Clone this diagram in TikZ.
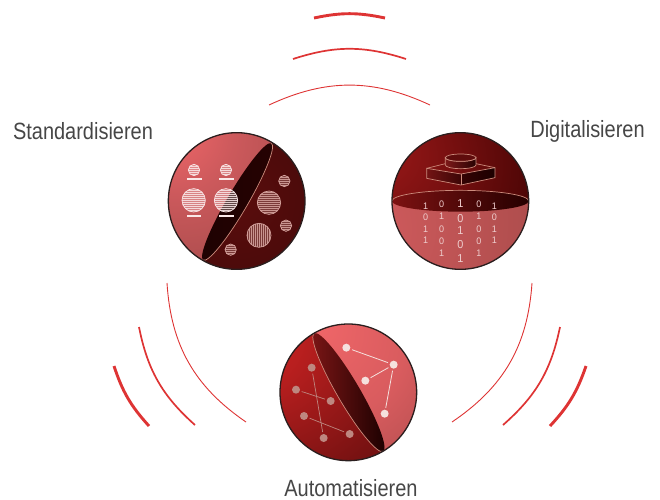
\documentclass[tikz,border=0pt]{standalone}
\usepackage{fontspec}
\setmainfont{Liberation Sans}[FakeStretch=0.85]
\newfontfamily\digitfont{Liberation Sans}[FakeStretch=0.95]
\definecolor{arcred}{RGB}{222,52,52}
\definecolor{rim}{RGB}{42,30,30}
\definecolor{seam}{RGB}{205,140,125}
\definecolor{labelgrey}{RGB}{70,70,70}
\definecolor{paleline}{RGB}{245,225,222}
\definecolor{darkline}{RGB}{190,135,128}
\definecolor{hatchlight}{RGB}{250,232,232}
\definecolor{hatchdark}{RGB}{215,165,160}
\definecolor{digitpale}{RGB}{238,205,205}
\pgfdeclareradialshading{sonepink}{\pgfpoint{-28bp}{30bp}}{rgb(0bp)=(0.97,0.41,0.42); rgb(22bp)=(0.80,0.35,0.36); rgb(55bp)=(0.62,0.28,0.28); rgb(120bp)=(0.56,0.25,0.25)}
\pgfdeclareradialshading{sonedark}{\pgfpoint{0bp}{0bp}}{rgb(0bp)=(0.35,0.05,0.05); rgb(30bp)=(0.29,0.04,0.04); rgb(60bp)=(0.20,0.02,0.02); rgb(120bp)=(0.18,0.02,0.02)}
\pgfdeclareradialshading{stwodark}{\pgfpoint{-33bp}{19bp}}{rgb(0bp)=(0.62,0.10,0.10); rgb(25bp)=(0.46,0.06,0.06); rgb(55bp)=(0.25,0.01,0.01); rgb(85bp)=(0.12,0.0,0.0); rgb(130bp)=(0.10,0.0,0.0)}
\pgfdeclareradialshading{stwopink}{\pgfpoint{-48bp}{-12bp}}{rgb(0bp)=(0.85,0.37,0.38); rgb(50bp)=(0.70,0.31,0.31); rgb(90bp)=(0.59,0.27,0.27); rgb(140bp)=(0.58,0.26,0.26)}
\pgfdeclareradialshading{sthreedark}{\pgfpoint{-42bp}{25bp}}{rgb(0bp)=(0.84,0.15,0.15); rgb(20bp)=(0.72,0.12,0.12); rgb(50bp)=(0.47,0.07,0.07); rgb(85bp)=(0.26,0.03,0.03); rgb(110bp)=(0.16,0.01,0.01); rgb(140bp)=(0.15,0.01,0.01)}
\pgfdeclareradialshading{sthreepink}{\pgfpoint{-12bp}{25bp}}{rgb(0bp)=(0.94,0.40,0.41); rgb(30bp)=(0.85,0.36,0.37); rgb(65bp)=(0.63,0.28,0.28); rgb(130bp)=(0.60,0.27,0.27)}
\tikzset{
  arcthin/.style={draw=arcred,line width=0.9pt},
  arcmid/.style={draw=arcred,line width=1.7pt},
  arcthick/.style={draw=arcred,line width=2.9pt},
  rimline/.style={draw=rim,line width=1.3pt},
  seamline/.style={draw=seam,line width=0.7pt},
  caption/.style={text=labelgrey,font=\fontsize{23.5}{26}\selectfont,inner sep=0pt},
  digit/.style={text=digitpale,font=\digitfont\fontsize{9.5}{10}\selectfont,inner sep=0pt},
  bigdigit/.style={text=digitpale,font=\digitfont\fontsize{11.5}{12}\selectfont,inner sep=0pt},
  netdark/.style={circle,fill=darkline,draw=none,minimum size=8pt,inner sep=0pt,outer sep=2pt},
  netpale/.style={circle,fill=paleline,draw=none,minimum size=8pt,inner sep=0pt,outer sep=2pt},
  zoomed/.style={x=0.33333pt,y=-0.33333pt},
}
\newcommand{\hatchh}[4]{%
  \begin{scope}
    \clip (#1,#2) circle (#3);
    \fill[#4,opacity=0.30] (#1,#2) circle (#3);
    \foreach \k in {-36,-30,...,36}
      \draw[#4,line width=0.5pt,opacity=0.85] ({#1-#3},{#2+\k}) -- ({#1+#3},{#2+\k});
  \end{scope}
  \draw[#4,line width=0.7pt] (#1,#2) circle (#3);}
\newcommand{\hatchv}[4]{%
  \begin{scope}
    \clip (#1,#2) circle (#3);
    \fill[#4,opacity=0.30] (#1,#2) circle (#3);
    \foreach \k in {-36,-30,...,36}
      \draw[#4,line width=0.5pt,opacity=0.85] ({#1+\k},{#2-#3}) -- ({#1+\k},{#2+#3});
  \end{scope}
  \draw[#4,line width=0.7pt] (#1,#2) circle (#3);}
\begin{document}
\begin{tikzpicture}[x=1pt,y=-1pt]
\useasboundingbox (0,0) rectangle (660,499);
% ---------- arcs
\coordinate (ta1) at (269,105); \coordinate (tb1) at (430,105);
\coordinate (ta2) at (293,59);  \coordinate (tb2) at (406,59);
\coordinate (ta3) at (314,18);  \coordinate (tb3) at (385,18);
\coordinate (la1) at (167,283); \coordinate (lb1) at (246,422);
\coordinate (la2) at (139,327); \coordinate (lb2) at (195,425);
\coordinate (la3) at (114,366); \coordinate (lb3) at (149,426);
\coordinate (ra1) at (532,283); \coordinate (rb1) at (452,422);
\coordinate (ra2) at (560,327); \coordinate (rb2) at (503,425);
\coordinate (ra3) at (586,366); \coordinate (rb3) at (550,426);
\draw[arcthin]  (ta1) to[bend left=25] (tb1);
\draw[arcmid]   (ta2) to[bend left=18] (tb2);
\draw[arcthick] (ta3) to[bend left=12] (tb3);
\draw[arcthin]  (la1) to[bend right=26] (lb1);
\draw[arcmid]   (la2) to[bend right=18.5] (lb2);
\draw[arcthick] (la3) to[bend right=12] (lb3);
\draw[arcthin]  (ra1) to[bend left=26] (rb1);
\draw[arcmid]   (ra2) to[bend left=18.5] (rb2);
\draw[arcthick] (ra3) to[bend left=12] (rb3);
% ---------- captions
\node[caption] (capS) at (83,131) {Standardisieren};
\node[caption] (capD) at (587.5,131) {Digitalisieren};
\node[caption] (capA) at (351,488) {Automatisieren};
% ---------- sphere 1
\begin{scope}[shift={(160,125)},zoomed]
  \begin{scope}
    \clip (230,228) circle (205);
    \shade[shading=sonedark] (230,228) circle (205);
    \begin{scope}
      \clip (335,55) -- (130,405) -- (-20,480) -- (-20,-20) -- (335,-20) -- cycle;
      \shade[shading=sonepink] (230,228) circle (205);
    \end{scope}
    \begin{scope}[shift={(232,230)},rotate=59.7]
      \shade[left color={rgb,255:red,30;green,2;blue,2},middle color={rgb,255:red,82;green,10;blue,10},right color={rgb,255:red,38;green,2;blue,2}] (0,0) ellipse (203 and 31);
      \draw[seamline] (203,0) arc (0:180:203 and 31);
    \end{scope}
  \end{scope}
  \hatchh{102}{135}{17}{hatchlight}
  \hatchh{198}{135}{17}{hatchlight}
  \hatchh{101}{226}{35}{hatchlight}
  \hatchh{198}{226}{35}{hatchlight}
  \fill[hatchlight] (81,160) rectangle (125,166);
  \fill[hatchlight] (177,160) rectangle (221,166);
  \fill[hatchlight] (80,269) rectangle (124,275);
  \fill[hatchlight] (177,269) rectangle (221,275);
  \hatchh{373}{168}{17}{hatchdark}
  \hatchh{327}{233}{35}{hatchdark}
  \hatchh{378}{302}{17}{hatchdark}
  \hatchv{297}{331}{36}{hatchdark}
  \hatchh{212}{374}{17}{hatchdark}
  \draw[rimline] (230,228) circle (205);
\end{scope}
% ---------- sphere 2
\begin{scope}[shift={(385,125)},zoomed]
  \begin{scope}
    \clip (226,228) circle (205);
    \shade[shading=stwodark] (226,228) circle (205);
    \begin{scope}
      \clip (-10,228) rectangle (460,460);
      \shade[shading=stwopink] (226,228) circle (205);
    \end{scope}
    \shade[left color={rgb,255:red,125;green,18;blue,18},middle color={rgb,255:red,28;green,0;blue,0},right color={rgb,255:red,38;green,0;blue,0}] (226,228) ellipse (205 and 32);
    \draw[seamline] (21,228) arc (180:360:205 and 32);
  \end{scope}
  % stepped block
  \shade[left color={rgb,255:red,115;green,20;blue,20},right color={rgb,255:red,60;green,6;blue,6}] (125,130) -- (228,147) -- (228,180) -- (125,160) -- cycle;
  \shade[left color={rgb,255:red,52;green,3;blue,3},right color={rgb,255:red,28;green,0;blue,0}] (228,147) -- (330,128) -- (330,158) -- (228,180) -- cycle;
  \draw[seamline] (125,130) -- (228,147) -- (330,128) -- (330,158) -- (228,180) -- (125,160) -- cycle;
  \draw[seamline] (228,147) -- (228,180);
  \draw[seamline] (125,130) -- (181,116);
  \draw[seamline] (273,116) -- (330,128);
  \shade[left color={rgb,255:red,125;green,25;blue,25},right color={rgb,255:red,40;green,2;blue,2},draw=seam,line width=0.7pt] (181,98) -- (181,120) arc (180:0:46 and 11) -- (273,98) arc (0:180:46 and 11) -- cycle;
  \fill[fill={rgb,255:red,95;green,12;blue,12},draw=seam,line width=0.7pt] (227,98) ellipse (46 and 11);
  % digits
  \foreach \n/\x/\y/\t in {a/122/243/1,b/122/277/0,c/122/312/1,d/122/347/1,
      e/170/238/0,f/170/275/1,g/170/312/0,h/170/349/0,i/170/385/1,
      j/282/238/0,k/282/275/1,l/282/312/0,m/282/349/0,n/282/385/1,
      o/328/243/1,p/328/277/0,q/328/312/1,r/328/347/1}
    \node[digit] (dig\n) at (\x,\y) {\t};
  \foreach \n/\y/\t in {s/237/1,t/280/0,u/318/1,v/358/0,w/400/1}
    \node[bigdigit] (dig\n) at (226,\y) {\t};
  \draw[rimline] (226,228) circle (205);
\end{scope}
% ---------- sphere 3
\begin{scope}[shift={(275,315)},zoomed]
  \begin{scope}
    \clip (220,232) circle (205);
    \shade[shading=sthreedark] (220,232) circle (205);
    \begin{scope}
      \clip (118,55) -- (325,410) -- (480,480) -- (480,-20) -- (118,-20) -- cycle;
      \shade[shading=sthreepink] (220,232) circle (205);
    \end{scope}
    \begin{scope}[shift={(221,232)},rotate=-59.7]
      \shade[left color={rgb,255:red,125;green,22;blue,22},right color={rgb,255:red,25;green,0;blue,0}] (0,0) ellipse (205 and 34);
      \draw[seamline] (205,0) arc (0:180:205 and 34);
    \end{scope}
  \end{scope}
  \node[netdark] (na) at (110,158) {};
  \node[netdark] (nb) at (63,224) {};
  \node[netdark] (nc) at (167,258) {};
  \node[netdark] (nd) at (87,303) {};
  \node[netdark] (ne) at (146,369) {};
  \node[netdark] (nf) at (224,357) {};
  \draw[darkline,line width=0.7pt] (na) -- (ne);
  \draw[darkline,line width=0.7pt] (nb) -- (nc);
  \draw[darkline,line width=0.7pt] (nd) -- (nf);
  \node[netpale] (pa) at (214,98) {};
  \node[netpale] (pb) at (356,149) {};
  \node[netpale] (pc) at (271,197) {};
  \node[netpale] (pd) at (329,296) {};
  \draw[paleline,line width=0.8pt] (pa) -- (pb);
  \draw[paleline,line width=0.8pt] (pc) -- (pb);
  \draw[paleline,line width=0.8pt] (pb) -- (pd);
  \draw[rimline] (220,232) circle (205);
\end{scope}
\end{tikzpicture}
\end{document}
